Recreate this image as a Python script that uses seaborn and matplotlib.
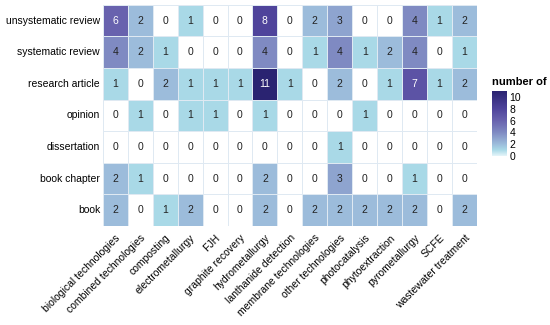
import numpy as np
import pandas as pd
import matplotlib
matplotlib.use("Agg")
import matplotlib.pyplot as plt
import seaborn as sns
from matplotlib.colors import LinearSegmentedColormap, ListedColormap

doc_types = ["unsystematic review", "systematic review", "research article",
             "opinion", "dissertation", "book chapter", "book"]
technologies = ["biological technologies", "combined technologies", "composting",
                "electrometallurgy", "FJH", "graphite recovery", "hydrometallurgy",
                "lanthanide detection", "membrane technologies", "other technologies",
                "photocatalysis", "phytoextraction", "pyrometallurgy", "SCFE",
                "wastewater treatment"]

unsystematic_review = [6, 2, 0, 1, 0, 0, 8, 0, 2, 3, 0, 0, 4, 1, 2]
systematic_review = [4, 2, 1, 0, 0, 0, 4, 0, 1, 4, 1, 2, 4, 0, 1]
research_article = [1, 0, 2, 1, 1, 1, 11, 1, 0, 2, 0, 1, 7, 1, 2]
opinion = [0, 1, 0, 1, 1, 0, 1, 0, 0, 0, 1, 0, 0, 0, 0]
dissertation = [0, 0, 0, 0, 0, 0, 0, 0, 0, 1, 0, 0, 0, 0, 0]
book_chapter = [2, 1, 0, 0, 0, 0, 2, 0, 0, 3, 0, 0, 1, 0, 0]
book = [2, 0, 1, 2, 0, 0, 2, 0, 2, 2, 2, 2, 2, 0, 2]

counts = pd.DataFrame([unsystematic_review, systematic_review, research_article,
                       opinion, dissertation, book_chapter, book],
                      index=doc_types, columns=technologies)

plt.rcParams['font.family'] = ['Liberation Sans', 'DejaVu Sans']

cmap = LinearSegmentedColormap.from_list("blues", [
    (0.0, "#e4f4f9"), (1 / 11, "#a9d9e7"), (2 / 11, "#9cbcdb"),
    (4 / 11, "#7f8ac2"), (6 / 11, "#6862ae"), (8 / 11, "#4f449b"),
    (1.0, "#2a2371")])

fig = plt.figure(figsize=(5.5, 3.25), dpi=100)
ax = fig.add_axes([0.187, 0.305, 0.68, 0.68])
cax = fig.add_axes([0.895, 0.52, 0.026, 0.2])

# zero cells: white with a label
sns.heatmap(counts, ax=ax, mask=counts != 0, cmap=ListedColormap(["white"]),
            cbar=False, annot=True, fmt="d",
            annot_kws={"size": 7.5, "color": "#222222"})
sns.heatmap(counts, ax=ax, mask=counts == 0, cmap=cmap, vmin=0, vmax=11,
            annot=True, fmt="d", annot_kws={"size": 7.5},
            linewidths=0.4, linecolor="#dfe9f2", cbar_ax=cax)

for t in ax.texts:
    t.set_color("white" if int(t.get_text()) >= 6 else "#222222")

ax.tick_params(length=0, labelsize=7.5, pad=2)
ax.tick_params(axis="x", pad=5)
ax.set_xticklabels(ax.get_xticklabels(), rotation=45, ha="right",
                   rotation_mode="anchor")
ax.set_yticklabels(ax.get_yticklabels(), rotation=0)
ax.set_xlabel("")
ax.set_ylabel("")

cax.set_yticks([0, 2, 4, 6, 8, 10])
cax.tick_params(length=0, labelsize=7.5, pad=2)
cax.set_ylim(0, 11)
for s in cax.spines.values():
    s.set_visible(False)
cax.set_title("number of", fontsize=8, fontweight="bold", loc="left", pad=4)

fig.savefig("out.png", dpi=100)
